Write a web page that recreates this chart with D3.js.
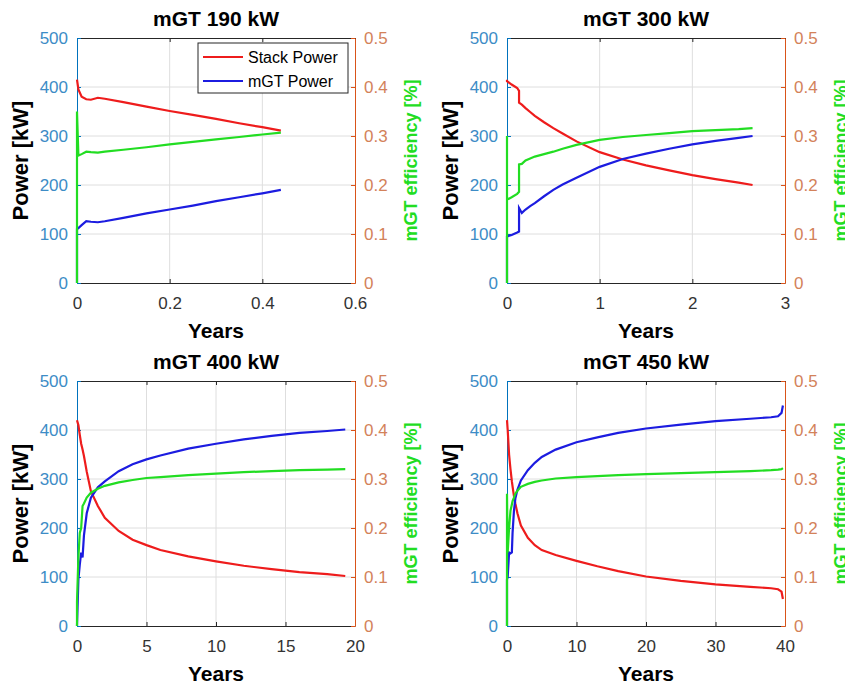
<!DOCTYPE html>
<html>
<head>
<meta charset="utf-8">
<script src="https://cdn.jsdelivr.net/npm/d3@7"></script>
<style>
  body { margin: 0; background: #fff; }
  svg { display: block; }
</style>
</head>
<body>
<div id="chart"></div>
<script>
// ---- data ----
const titles = ["mGT 190 kW", "mGT 300 kW", "mGT 400 kW", "mGT 450 kW"];
const seriesNames = ["Stack Power", "mGT Power"];

const xTicks190 = [0, 0.2, 0.4, 0.6];
const xTicks300 = [0, 1, 2, 3];
const xTicks400 = [0, 5, 10, 15, 20];
const xTicks450 = [0, 10, 20, 30, 40];
const powerTicks = [0, 100, 200, 300, 400, 500];
const effTicks = [0, 0.1, 0.2, 0.3, 0.4, 0.5];

const years190 = [0, 0, 0.003, 0.01, 0.02, 0.03, 0.045, 0.06, 0.1, 0.15, 0.2, 0.25, 0.3, 0.35, 0.4, 0.44];
const stack190 = [415, 415, 395, 380, 375, 374, 378, 376, 369, 360, 351, 343, 335, 326, 318, 311];
const mgt190   = [0, 110, 112, 118, 126, 125, 124, 126, 133, 142, 150, 158, 167, 175, 183, 190];
const eff190   = [0, 0.35, 0.26, 0.263, 0.268, 0.267, 0.266, 0.268, 0.272, 0.277, 0.283, 0.288, 0.293, 0.298, 0.303, 0.307];

const years300 = [0, 0, 0, 0.05, 0.11, 0.13, 0.13, 0.16, 0.2, 0.25, 0.3, 0.4, 0.5, 0.6, 0.75, 1, 1.25, 1.5, 1.75, 2, 2.25, 2.5, 2.65];
const stack300 = [415, 415, 412, 405, 398, 392, 368, 364, 357, 349, 341, 328, 316, 305, 289, 267, 252, 240, 230, 220, 212, 205, 200];
const mgt300   = [0, 0, 95, 98, 103, 105, 153, 143, 150, 157, 163, 177, 190, 201, 215, 237, 253, 264, 274, 283, 290, 296, 300];
const eff300   = [0, 0.30, 0.17, 0.175, 0.182, 0.186, 0.242, 0.243, 0.25, 0.254, 0.258, 0.263, 0.268, 0.274, 0.282, 0.292, 0.298, 0.302, 0.306, 0.31, 0.312, 0.314, 0.316];

const years400 = [0, 0, 0.1, 0.2, 0.3, 0.4, 0.5, 0.7, 1, 1.5, 2, 3, 4, 5, 6, 8, 10, 12, 14, 16, 18, 19.3];
const stack400 = [420, 420, 410, 390, 372, 360, 347, 315, 275, 245, 221, 194, 176, 165, 155, 142, 132, 123, 116, 110, 106, 102];
const mgt400   = [0, 0, 95, 125, 150, 140, 185, 230, 262, 283, 295, 316, 330, 340, 348, 362, 372, 381, 388, 394, 398, 401];
const eff400   = [0, 0.05, 0.14, 0.19, 0.2, 0.245, 0.25, 0.262, 0.272, 0.28, 0.286, 0.293, 0.298, 0.302, 0.304, 0.308, 0.311, 0.314, 0.316, 0.318, 0.319, 0.32];

const years450 = [0, 0, 0.1, 0.3, 0.5, 0.7, 0.8, 1, 1.2, 1.5, 2, 3, 4, 5, 7, 10, 13, 16, 20, 25, 30, 35, 38, 39, 39.5, 39.7];
const stack450 = [420, 420, 400, 350, 320, 295, 285, 265, 250, 230, 205, 180, 165, 155, 145, 133, 122, 112, 101, 92, 85, 80, 77, 75, 70, 55];
const mgt450   = [0, 95, 100, 150, 148, 150, 190, 235, 260, 278, 297, 318, 333, 345, 360, 375, 385, 394, 403, 411, 418, 423, 426, 428, 435, 450];
const eff450   = [0, 0.27, 0.15, 0.2, 0.235, 0.248, 0.255, 0.262, 0.27, 0.276, 0.284, 0.29, 0.294, 0.297, 0.301, 0.304, 0.306, 0.308, 0.31, 0.312, 0.314, 0.316, 0.318, 0.319, 0.32, 0.322];

// ---- layout / style ----
const W = 845, H = 686;
const font = "'Liberation Sans', Arial, Helvetica, sans-serif";
const colStack = "#ee1c1c", colMgt = "#1c1ce0", colEff = "#22dd22";
const colLeft = "#0072BD", colRight = "#D95319";
const colLeftText = "#3d8cc6", colRightText = "#d3825a";

const panels = [
    { title: titles[0], years: years190, stack: stack190, mgt: mgt190, eff: eff190, xTicks: xTicks190, left: 77, top: 38, legend: true },
    { title: titles[1], years: years300, stack: stack300, mgt: mgt300, eff: eff300, xTicks: xTicks300, left: 507, top: 38 },
    { title: titles[2], years: years400, stack: stack400, mgt: mgt400, eff: eff400, xTicks: xTicks400, left: 77, top: 381 },
    { title: titles[3], years: years450, stack: stack450, mgt: mgt450, eff: eff450, xTicks: xTicks450, left: 507, top: 381 }
];
const pw = 278, ph = 245;

const svg = d3.select("#chart").append("svg")
    .attr("width", W)
    .attr("height", H)
    .style("font-family", font);

panels.forEach(p => {
    const g = svg.append("g").attr("transform", `translate(${p.left},${p.top})`);

    const x = d3.scaleLinear().domain([0, d3.max(p.xTicks)]).range([0, pw]);
    const yL = d3.scaleLinear().domain([0, 500]).range([ph, 0]);
    const yR = d3.scaleLinear().domain([0, 0.5]).range([ph, 0]);

    // grid
    g.append("g").selectAll("line").data(p.xTicks.slice(1, -1)).enter().append("line")
        .attr("x1", d => x(d)).attr("x2", d => x(d))
        .attr("y1", 0).attr("y2", ph)
        .attr("stroke", "#dedede");
    g.append("g").selectAll("line").data(powerTicks.slice(1, -1)).enter().append("line")
        .attr("x1", 0).attr("x2", pw)
        .attr("y1", d => yL(d)).attr("y2", d => yL(d))
        .attr("stroke", "#dedede");

    // axes (MATLAB-style inward ticks)
    const bottom = g.append("g").attr("transform", `translate(0,${ph})`)
        .call(d3.axisBottom(x).tickValues(p.xTicks).tickFormat(d => d).tickSizeInner(-4).tickSizeOuter(0).tickPadding(14));
    const top = g.append("g")
        .call(d3.axisTop(x).tickValues(p.xTicks).tickFormat("").tickSizeInner(-4).tickSizeOuter(0));
    const left = g.append("g")
        .call(d3.axisLeft(yL).tickValues(powerTicks).tickFormat(d => d).tickSizeInner(-4).tickSizeOuter(0).tickPadding(9));
    const right = g.append("g").attr("transform", `translate(${pw},0)`)
        .call(d3.axisRight(yR).tickValues(effTicks).tickFormat(d => d).tickSizeInner(-4).tickSizeOuter(0).tickPadding(9));

    [bottom, top].forEach(a => {
        a.selectAll("path, line").attr("stroke", "#262626");
        a.selectAll("text").attr("fill", "#333").style("font-size", "17px").style("font-family", font);
    });
    left.selectAll("path, line").attr("stroke", colLeft);
    left.selectAll("text").attr("fill", colLeftText).style("font-size", "17px").style("font-family", font);
    right.selectAll("path, line").attr("stroke", colRight);
    right.selectAll("text").attr("fill", colRightText).style("font-size", "17px").style("font-family", font);

    // lines
    const idx = d3.range(p.years.length);
    const lineL = vals => d3.line().x(i => x(p.years[i])).y(i => yL(vals[i]))(idx);
    const lineR = vals => d3.line().x(i => x(p.years[i])).y(i => yR(vals[i]))(idx);

    g.append("path").attr("d", lineL(p.stack)).attr("fill", "none").attr("stroke", colStack).attr("stroke-width", 2.2);
    g.append("path").attr("d", lineL(p.mgt)).attr("fill", "none").attr("stroke", colMgt).attr("stroke-width", 2.2);
    g.append("path").attr("d", lineR(p.eff)).attr("fill", "none").attr("stroke", colEff).attr("stroke-width", 2.2);

    // labels
    g.append("text")
        .attr("x", pw / 2).attr("y", -12)
        .attr("text-anchor", "middle")
        .style("font-size", "21px").style("font-weight", "bold").attr("fill", "#000")
        .text(p.title);
    g.append("text")
        .attr("x", pw / 2).attr("y", ph + 55)
        .attr("text-anchor", "middle")
        .style("font-size", "21px").style("font-weight", "bold").attr("fill", "#000")
        .text("Years");
    g.append("text")
        .attr("transform", `translate(-49,${ph / 2}) rotate(-90)`)
        .attr("text-anchor", "middle")
        .style("font-size", "22px").style("font-weight", "bold").attr("fill", "#000")
        .text("Power [kW]");
    g.append("text")
        .attr("transform", `translate(${pw + 62},${ph / 2}) rotate(-90)`)
        .attr("text-anchor", "middle")
        .style("font-size", "18px").style("font-weight", "bold").attr("fill", colEff)
        .text("mGT efficiency [%]");

    // legend
    if (p.legend) {
        const lg = g.append("g").attr("transform", "translate(121,5)");
        lg.append("rect").attr("width", 150).attr("height", 50)
            .attr("fill", "#fff").attr("stroke", "#262626");
        [colStack, colMgt].forEach((c, i) => {
            const yy = 14 + i * 24;
            lg.append("line").attr("x1", 5).attr("x2", 45).attr("y1", yy).attr("y2", yy)
                .attr("stroke", c).attr("stroke-width", 2);
            lg.append("text").attr("x", 50).attr("y", yy + 6)
                .style("font-size", "16px").attr("fill", "#000")
                .text(seriesNames[i]);
        });
    }
});
</script>
</body>
</html>
